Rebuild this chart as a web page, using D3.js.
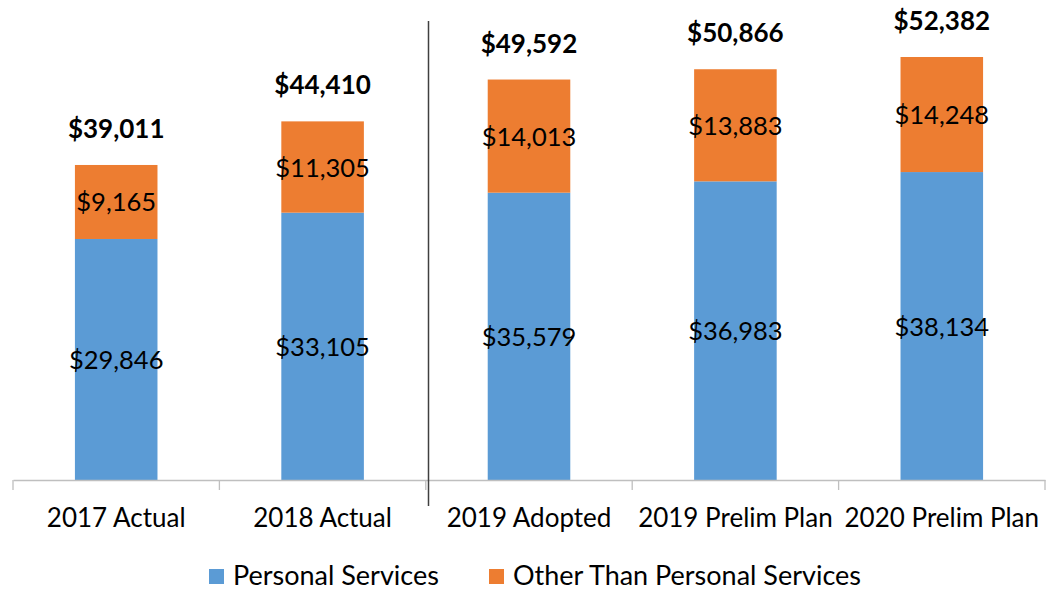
<!DOCTYPE html>
<html>
<head>
<meta charset="utf-8">
<script src="https://cdn.jsdelivr.net/npm/d3@7"></script>
<style>
  html, body { margin: 0; padding: 0; background: #fff; }
  svg { display: block; font-family: Lato, "Open Sans", sans-serif; }
</style>
</head>
<body>
<svg id="chart" width="1058" height="591"></svg>
<script>
const categories = ["2017 Actual", "2018 Actual", "2019 Adopted", "2019 Prelim Plan", "2020 Prelim Plan"];
const personalServices = [29846, 33105, 35579, 36983, 38134];
const otherThanPS = [9165, 11305, 14013, 13883, 14248];
const totals = [39011, 44410, 49592, 50866, 52382];
const seriesNames = ["Personal Services", "Other Than Personal Services"];
const colors = ["#5B9BD5", "#ED7D31"];

const svg = d3.select("#chart");
const left = 13, right = 1045, base = 480;
const fmt = v => "$" + d3.format(",")(v);

const x = d3.scaleBand().domain(categories).range([left, right]).paddingInner(0.6).paddingOuter(0.3);
const y = d3.scaleLinear().domain([0, 52382]).range([base, 57]);

const rows = categories.map((c, i) => ({ cat: c, ps: personalServices[i], otps: otherThanPS[i], total: totals[i] }));
const stack = d3.stack().keys(["ps", "otps"])(rows);

const g = svg.append("g");
stack.forEach((layer, li) => {
  g.selectAll(null).data(layer).enter().append("rect")
    .attr("x", d => x(d.data.cat))
    .attr("width", x.bandwidth())
    .attr("y", d => y(d[1]))
    .attr("height", d => y(d[0]) - y(d[1]))
    .attr("fill", colors[li]);
  g.selectAll(null).data(layer).enter().append("text")
    .attr("x", d => x(d.data.cat) + x.bandwidth() / 2)
    .attr("y", d => (y(d[0]) + y(d[1])) / 2 + 9.5)
    .attr("text-anchor", "middle")
    .attr("font-size", 25.5)
    .attr("fill", "#000")
    .text(d => fmt(d.data[layer.key]));
});

// totals
g.selectAll(null).data(rows).enter().append("text")
  .attr("x", d => x(d.cat) + x.bandwidth() / 2)
  .attr("y", d => y(d.total) - 27)
  .attr("text-anchor", "middle")
  .attr("font-size", 26)
  .attr("font-weight", "bold")
  .text(d => fmt(d.total));

// axis
const axis = svg.append("g").attr("transform", `translate(0,${base})`)
  .call(d3.axisBottom(x).tickSize(0).tickPadding(36));
axis.select(".domain").attr("stroke", "#bfbfbf").attr("stroke-width", 1.3);
axis.selectAll(".tick text").attr("font-size", 26).attr("font-family", "Lato, 'Open Sans', sans-serif").attr("fill", "#000").attr("dy", 0).attr("dominant-baseline", "auto")
  .attr("y", 47);
const step = x.step();
const bounds = d3.range(categories.length + 1).map(i => left + i * step);
axis.selectAll(".bound").data(bounds).enter().append("line")
  .attr("x1", d => d).attr("x2", d => d).attr("y1", 0).attr("y2", 10)
  .attr("stroke", "#bfbfbf").attr("stroke-width", 1.3);

// divider
svg.append("line").attr("x1", 428.5).attr("x2", 428.5).attr("y1", 21).attr("y2", 506)
  .attr("stroke", "#404040").attr("stroke-width", 1.5);

// legend
const legendX = [209, 489];
const lg = svg.append("g");
seriesNames.forEach((n, i) => {
  lg.append("rect").attr("x", legendX[i]).attr("y", 569).attr("width", 15).attr("height", 15).attr("fill", colors[i]);
  lg.append("text").attr("x", legendX[i] + 24).attr("y", 585).attr("font-size", 27).text(n);
});
</script>
</body>
</html>
